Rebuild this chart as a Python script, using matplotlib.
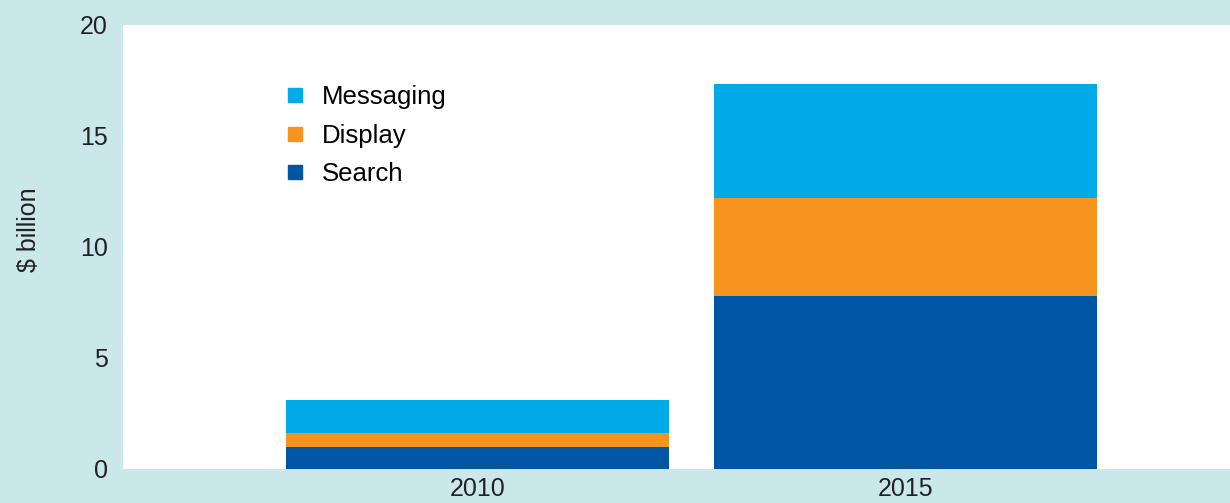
import matplotlib
matplotlib.use("Agg")
import matplotlib.pyplot as plt
from matplotlib.lines import Line2D

plt.rcParams["font.family"] = ["Liberation Sans", "DejaVu Sans"]
plt.rcParams["font.size"] = 18

years = ["2010", "2015"]
search = [1.0, 7.8]
display = [0.6, 4.4]
messaging = [1.5, 5.15]

bg = "#cae8ea"
c_search = "#0055a5"
c_display = "#f7941d"
c_messaging = "#02abe7"

fig = plt.figure(figsize=(12.3, 5.03), dpi=100, facecolor=bg)
ax = fig.add_axes([0.1, 0.0676, 0.9, 0.8827])

x = list(range(len(years)))
w = 0.895
ax.bar(x, search, width=w, color=c_search, zorder=3)
ax.bar(x, display, width=w, bottom=search, color=c_display, zorder=3)
bottom3 = [a + b for a, b in zip(search, display)]
ax.bar(x, messaging, width=w, bottom=bottom3, color=c_messaging, zorder=3)

ax.set_xlim(-0.828, 1.758)
ax.set_ylim(0, 20)
ax.set_yticks([0, 5, 10, 15, 20])
ax.set_xticks(x)
ax.set_xticklabels(years)
ax.tick_params(length=0, colors="#222222")
ax.tick_params(axis="y", pad=11)
ax.tick_params(axis="x", pad=6)
for s in ax.spines.values():
    s.set_visible(False)

ax.set_ylabel("$ billion", color="#222222")
ax.yaxis.set_label_coords(-0.074, 0.538)

handles = [
    Line2D([], [], marker="s", linestyle="none", markersize=10, color=c_messaging),
    Line2D([], [], marker="s", linestyle="none", markersize=10, color=c_display),
    Line2D([], [], marker="s", linestyle="none", markersize=10, color=c_search),
]
ax.legend(handles, ["Messaging", "Display", "Search"], loc="upper left",
          bbox_to_anchor=(0.125, 0.916), frameon=False, handlelength=0.8,
          handletextpad=0.64, labelspacing=0.56, fontsize=18.5)

fig.savefig("out.png", dpi=100, facecolor=bg)
